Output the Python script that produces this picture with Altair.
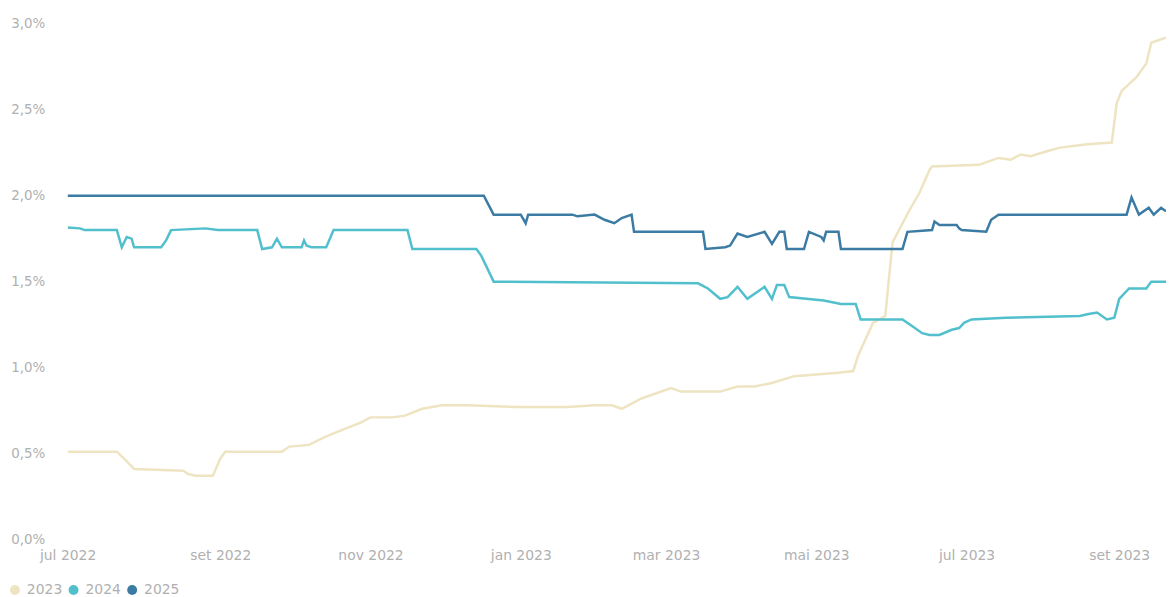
import altair as alt
import pandas as pd

series_names = ["2023", "2024", "2025"]
series_colors = ["#EEE4C2", "#52C0CC", "#3B7BA4"]

dates_2023 = [
    "2022-07-01", "2022-07-21", "2022-07-24", "2022-07-28", "2022-08-17", "2022-08-19",
    "2022-08-22", "2022-08-29", "2022-09-01", "2022-09-03", "2022-09-26", "2022-09-29",
    "2022-10-07", "2022-10-14", "2022-10-21", "2022-10-28", "2022-11-01", "2022-11-10",
    "2022-11-15", "2022-11-22", "2022-11-30", "2022-12-10", "2022-12-30", "2023-01-20",
    "2023-01-31", "2023-02-07", "2023-02-11", "2023-02-19", "2023-03-03", "2023-03-07",
    "2023-03-15", "2023-03-23", "2023-03-30", "2023-04-06", "2023-04-13", "2023-04-22",
    "2023-05-10", "2023-05-16", "2023-05-18", "2023-05-24", "2023-05-29", "2023-05-31",
    "2023-06-01", "2023-06-08", "2023-06-12", "2023-06-16", "2023-06-17", "2023-07-06",
    "2023-07-14", "2023-07-19", "2023-07-23", "2023-07-27", "2023-08-03", "2023-08-08",
    "2023-08-19", "2023-08-29", "2023-08-31", "2023-09-02", "2023-09-08", "2023-09-12",
    "2023-09-14", "2023-09-20",
]
values_2023 = [
    0.51, 0.51, 0.47, 0.41, 0.40, 0.38,
    0.37, 0.37, 0.47, 0.51, 0.51, 0.54,
    0.55, 0.60, 0.64, 0.68, 0.71, 0.71,
    0.72, 0.76, 0.78, 0.78, 0.77, 0.77,
    0.78, 0.78, 0.76, 0.82, 0.88, 0.86,
    0.86, 0.86, 0.89, 0.89, 0.91, 0.95,
    0.97, 0.98, 1.07, 1.26, 1.30, 1.59,
    1.73, 1.92, 2.02, 2.15, 2.17, 2.18,
    2.22, 2.21, 2.24, 2.23, 2.26, 2.28,
    2.30, 2.31, 2.54, 2.61, 2.69, 2.77,
    2.89, 2.92,
]

dates_2024 = [
    "2022-07-01", "2022-07-06", "2022-07-08", "2022-07-21", "2022-07-23", "2022-07-25",
    "2022-07-27", "2022-07-28", "2022-08-08", "2022-08-10", "2022-08-12", "2022-08-26",
    "2022-08-31", "2022-09-16", "2022-09-18", "2022-09-22", "2022-09-24", "2022-09-26",
    "2022-10-04", "2022-10-05", "2022-10-06", "2022-10-08", "2022-10-14", "2022-10-17",
    "2022-11-16", "2022-11-18", "2022-12-14", "2022-12-16", "2022-12-21", "2023-03-14",
    "2023-03-18", "2023-03-23", "2023-03-26", "2023-03-30", "2023-04-03", "2023-04-10",
    "2023-04-13", "2023-04-15", "2023-04-18", "2023-04-20", "2023-05-04", "2023-05-11",
    "2023-05-17", "2023-05-19", "2023-06-05", "2023-06-09", "2023-06-13", "2023-06-16",
    "2023-06-20", "2023-06-25", "2023-06-28", "2023-06-30", "2023-07-03", "2023-07-17",
    "2023-08-16", "2023-08-19", "2023-08-23", "2023-08-27", "2023-08-30", "2023-09-01",
    "2023-09-05", "2023-09-12", "2023-09-14", "2023-09-20",
]
values_2024 = [
    1.815, 1.81, 1.80, 1.80, 1.70, 1.76,
    1.75, 1.70, 1.70, 1.74, 1.80, 1.81,
    1.80, 1.80, 1.69, 1.70, 1.75, 1.70,
    1.70, 1.74, 1.71, 1.70, 1.70, 1.80,
    1.80, 1.69, 1.69, 1.65, 1.50, 1.49,
    1.46, 1.40, 1.41, 1.47, 1.40, 1.47,
    1.40, 1.48, 1.48, 1.41, 1.39, 1.37,
    1.37, 1.28, 1.28, 1.24, 1.20, 1.19,
    1.19, 1.22, 1.23, 1.26, 1.28, 1.29,
    1.30, 1.31, 1.32, 1.28, 1.29, 1.40,
    1.46, 1.46, 1.50, 1.50,
]

dates_2025 = [
    "2022-07-01", "2022-12-17", "2022-12-21", "2023-01-01", "2023-01-03", "2023-01-04",
    "2023-01-22", "2023-01-24", "2023-01-31", "2023-02-04", "2023-02-08", "2023-02-11",
    "2023-02-15", "2023-02-16", "2023-03-16", "2023-03-17", "2023-03-25", "2023-03-27",
    "2023-03-30", "2023-04-03", "2023-04-10", "2023-04-13", "2023-04-16", "2023-04-18",
    "2023-04-19", "2023-04-26", "2023-04-28", "2023-05-03", "2023-05-04", "2023-05-05",
    "2023-05-10", "2023-05-11", "2023-06-05", "2023-06-07", "2023-06-17", "2023-06-18",
    "2023-06-20", "2023-06-27", "2023-06-28", "2023-06-29", "2023-07-09", "2023-07-11",
    "2023-07-14", "2023-09-04", "2023-09-06", "2023-09-09", "2023-09-13", "2023-09-15",
    "2023-09-18", "2023-09-20",
]
values_2025 = [
    2.00, 2.00, 1.89, 1.89, 1.84, 1.89,
    1.89, 1.88, 1.89, 1.86, 1.84, 1.87,
    1.89, 1.79, 1.79, 1.69, 1.70, 1.71,
    1.78, 1.76, 1.79, 1.72, 1.79, 1.79,
    1.69, 1.69, 1.79, 1.76, 1.74, 1.79,
    1.79, 1.69, 1.69, 1.79, 1.80, 1.85,
    1.83, 1.83, 1.81, 1.80, 1.79, 1.86,
    1.89, 1.89, 1.99, 1.89, 1.93, 1.89,
    1.93, 1.91,
]

y_ticks = [0.0, 0.5, 1.0, 1.5, 2.0, 2.5, 3.0]
x_ticks = [(2022, 7), (2022, 9), (2022, 11), (2023, 1), (2023, 3), (2023, 5), (2023, 7), (2023, 9)]
month_labels = ["jan", "fev", "mar", "abr", "mai", "jun", "jul", "ago", "set", "out", "nov", "dez"]

rows = []
for name, ds, vs in [("2023", dates_2023, values_2023),
                     ("2024", dates_2024, values_2024),
                     ("2025", dates_2025, values_2025)]:
    for d, v in zip(ds, vs):
        rows.append({"data": d, "valor": v, "serie": name})
df = pd.DataFrame(rows)

FONT = "DejaVu Sans"
TXT = "#B0B0B0"

month_arr = "[" + ",".join("'" + m + "'" for m in month_labels) + "]"

x_axis = alt.Axis(
    title=None,
    values=[alt.DateTime(year=y, month=m, date=1, utc=True) for y, m in x_ticks],
    labelExpr=month_arr + "[utcmonth(datum.value)] + ' ' + utcyear(datum.value)",
    grid=False, domain=False, ticks=False, tickSize=0,
    labelPadding=9, labelFlush=False, labelOverlap=False,
    labelFont=FONT, labelFontSize=14, labelColor=TXT,
)
y_axis = alt.Axis(
    title=None,
    values=y_ticks,
    labelExpr="replace(format(datum.value, '.1f'), '.', ',') + '%'",
    grid=False, domain=False, ticks=False, tickSize=0,
    labelPadding=23, labelFlush=False,
    labelFont=FONT, labelFontSize=13.5, labelColor=TXT,
)

legend = alt.Legend(
    title=None, orient="none", legendX=-60, legendY=563, direction="horizontal",
    symbolType="circle", symbolSize=100, symbolStrokeWidth=0,
    labelFont=FONT, labelFontSize=14, labelColor=TXT, labelOffset=5,
    columnPadding=4, padding=0,
)

x_enc = alt.X("data:T", axis=x_axis,
              scale=alt.Scale(type="utc",
                              domain=[alt.DateTime(year=2022, month=7, date=1, utc=True),
                                      alt.DateTime(year=2023, month=9, date=20, utc=True)]))
y_enc = alt.Y("valor:Q", axis=y_axis, scale=alt.Scale(domain=[0, 3], nice=False, zero=True))
color_scale = alt.Scale(domain=series_names, range=series_colors)

lines = alt.Chart(df).mark_line(strokeWidth=2.5, clip=True).encode(
    x=x_enc, y=y_enc,
    color=alt.Color("serie:N", scale=color_scale, legend=None),
    order=alt.Order("data:T"),
)

legend_layer = alt.Chart(df).transform_filter("false").mark_point(filled=True, opacity=1).encode(
    x=x_enc, y=y_enc,
    color=alt.Color("serie:N", scale=color_scale, legend=legend),
)

chart = alt.layer(lines, legend_layer).resolve_legend(color="independent").properties(
    width=1106, height=519,
    autosize=alt.AutoSizeParams(type="none"),
    padding={"left": 60, "top": 14, "right": 2, "bottom": 56},
    background="white",
).configure_view(stroke=None)

chart.save("out.html", embed_options={"renderer": "svg", "actions": False})
